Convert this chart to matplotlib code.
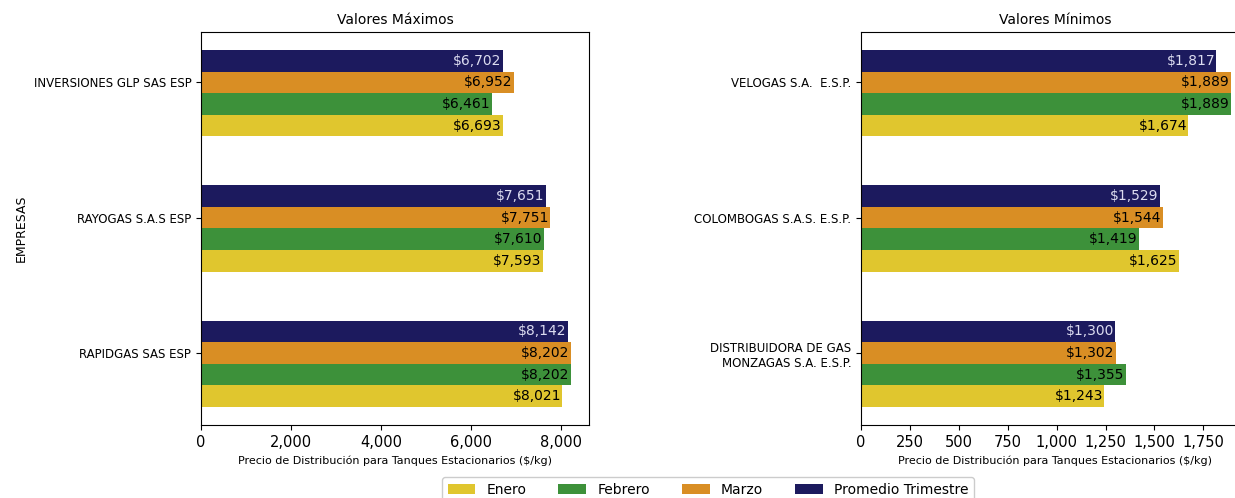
import matplotlib
matplotlib.use("Agg")
import matplotlib.pyplot as plt
import numpy as np
from matplotlib.ticker import FuncFormatter

empresas_max = ["INVERSIONES GLP SAS ESP", "RAYOGAS S.A.S ESP", "RAPIDGAS SAS ESP"]
max_enero = [6693, 7593, 8021]
max_febrero = [6461, 7610, 8202]
max_marzo = [6952, 7751, 8202]
max_promedio = [6702, 7651, 8142]

empresas_min = ["VELOGAS S.A.  E.S.P.", "COLOMBOGAS S.A.S. E.S.P.", "DISTRIBUIDORA DE GAS\nMONZAGAS S.A. E.S.P."]
min_enero = [1674, 1625, 1243]
min_febrero = [1889, 1419, 1355]
min_marzo = [1889, 1544, 1302]
min_promedio = [1817, 1529, 1300]

series_names = ["Enero", "Febrero", "Marzo", "Promedio Trimestre"]
colors = ["#E0C62E", "#3D913A", "#D98E24", "#1C1A5E"]
label_colors = ["black", "black", "black", "#DCDCF0"]
offsets = [2, 1, 0, -1]
h = 0.16

fig = plt.figure(figsize=(12.35, 4.98), dpi=100)
W, H = 1235, 498
ax1 = fig.add_axes([201 / W, 1 - 425 / H, 388 / W, 393 / H])
ax2 = fig.add_axes([861 / W, 1 - 425 / H, 388 / W, 393 / H])

fmt = FuncFormatter(lambda v, p: f"{v:,.0f}")

def draw(ax, empresas, data, title):
    y = np.arange(len(empresas))
    handles = []
    for vals, name, c, lc, off in zip(data, series_names, colors, label_colors, offsets):
        b = ax.barh(y + off * h, vals, height=h, color=c, label=name)
        handles.append(b)
        texts = ax.bar_label(b, labels=[f"${v:,.0f}" for v in vals], padding=-1,
                             label_type="edge", fontsize=10, color=lc)
        for t in texts:
            t.set_horizontalalignment("right")
    ax.invert_yaxis()
    ax.set_yticks(y)
    ax.set_yticklabels(empresas, fontsize=8.5)
    ax.xaxis.set_major_formatter(fmt)
    ax.tick_params(axis="x", labelsize=10.5)
    ax.set_xlabel("Precio de Distribución para Tanques Estacionarios ($/kg)", fontsize=8)
    ax.set_title(title, fontsize=10)
    return handles

handles = draw(ax1, empresas_max, [max_enero, max_febrero, max_marzo, max_promedio], "Valores Máximos")
draw(ax2, empresas_min, [min_enero, min_febrero, min_marzo, min_promedio], "Valores Mínimos")
ax2.set_xticks([0, 250, 500, 750, 1000, 1250, 1500, 1750])
ax1.set_xticks([0, 2000, 4000, 6000, 8000])
ax1.set_ylabel("EMPRESAS", fontsize=9)

fig.legend(handles=handles, labels=series_names, loc="upper center", ncol=4,
           bbox_to_anchor=(708 / W, 1 - 477 / H), borderaxespad=0,
           fontsize=10, columnspacing=2.3, framealpha=1)

fig.savefig("out.png", dpi=100)
